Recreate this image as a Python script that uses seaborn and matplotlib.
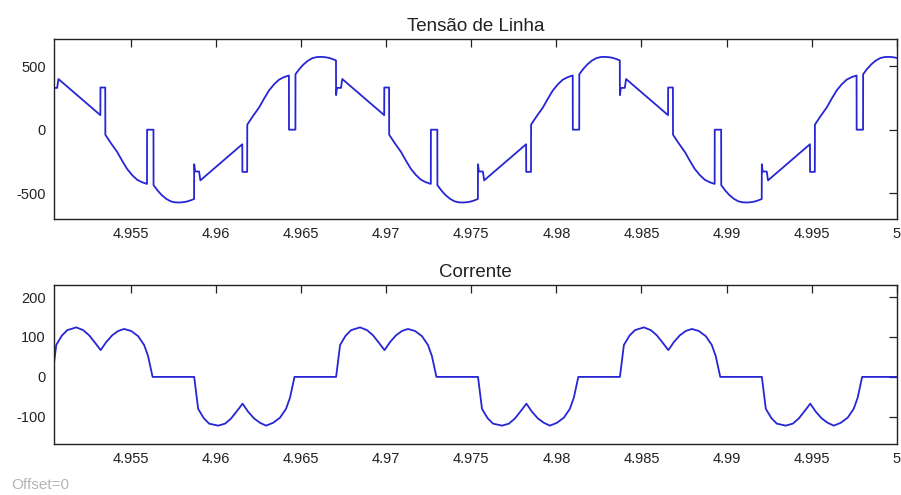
import matplotlib
matplotlib.use("Agg")
import matplotlib.pyplot as plt
import seaborn as sns
import pandas as pd

# Line voltage (Tensão de Linha): time in ms after 4.95 s, value in V
v_time_ms = [
    0.393, 0.399, 0.452, 0.686, 0.762, 1.759, 3.224, 3.230, 3.511, 3.517,
    3.863, 4.209, 4.503, 4.795, 5.088, 5.381, 5.673, 5.962, 5.967, 6.343,
    6.348, 6.583, 6.818, 7.083, 7.345, 7.583, 7.814, 8.053, 8.283, 8.523,
    8.727, 8.733, 8.786, 9.020, 9.096, 10.093, 11.558, 11.564, 11.845, 11.851,
    12.197, 12.543, 12.837, 13.129, 13.422, 13.715, 14.007, 14.296, 14.301, 14.677,
    14.682, 14.917, 15.152, 15.417, 15.679, 15.917, 16.148, 16.387, 16.617, 16.857,
    17.060, 17.066, 17.119, 17.353, 17.429, 18.426, 19.891, 19.897, 20.178, 20.184,
    20.530, 20.876, 21.170, 21.462, 21.755, 22.048, 22.340, 22.629, 22.634, 23.010,
    23.015, 23.250, 23.485, 23.750, 24.012, 24.250, 24.481, 24.720, 24.950, 25.190,
    25.393, 25.399, 25.452, 25.686, 25.762, 26.759, 28.224, 28.230, 28.511, 28.517,
    28.863, 29.209, 29.503, 29.795, 30.088, 30.381, 30.673, 30.962, 30.967, 31.343,
    31.348, 31.583, 31.818, 32.083, 32.345, 32.583, 32.814, 33.053, 33.283, 33.523,
    33.727, 33.733, 33.786, 34.020, 34.096, 35.093, 36.558, 36.564, 36.845, 36.851,
    37.197, 37.543, 37.837, 38.129, 38.422, 38.715, 39.007, 39.296, 39.301, 39.677,
    39.682, 39.917, 40.152, 40.417, 40.679, 40.917, 41.148, 41.387, 41.617, 41.857,
    42.060, 42.066, 42.119, 42.353, 42.429, 43.426, 44.891, 44.897, 45.178, 45.184,
    45.530, 45.876, 46.170, 46.462, 46.755, 47.048, 47.340, 47.629, 47.634, 48.010,
    48.015, 48.250, 48.485, 48.750, 49.012, 49.250, 49.481, 49.720, 49.950, 50.000,
]
v_values = [
    547, 273, 330, 330, 400, 285, 115, 333, 333, -40,
    -110, -175, -245, -310, -358, -395, -415, -428, 0, 0,
    -438, -480, -515, -545, -565, -573, -575, -573, -568, -558,
    -547, -273, -330, -330, -400, -285, -115, -333, -333, 40,
    110, 175, 245, 310, 358, 395, 415, 428, 0, 0,
    438, 480, 515, 545, 565, 573, 575, 573, 568, 558,
    547, 273, 330, 330, 400, 285, 115, 333, 333, -40,
    -110, -175, -245, -310, -358, -395, -415, -428, 0, 0,
    -438, -480, -515, -545, -565, -573, -575, -573, -568, -558,
    -547, -273, -330, -330, -400, -285, -115, -333, -333, 40,
    110, 175, 245, 310, 358, 395, 415, 428, 0, 0,
    438, 480, 515, 545, 565, 573, 575, 573, 568, 558,
    547, 273, 330, 330, 400, 285, 115, 333, 333, -40,
    -110, -175, -245, -310, -358, -395, -415, -428, 0, 0,
    -438, -480, -515, -545, -565, -573, -575, -573, -568, -558,
    -547, -273, -330, -330, -400, -285, -115, -333, -333, 40,
    110, 175, 245, 310, 358, 395, 415, 428, 0, 0,
    438, 480, 515, 545, 565, 573, 575, 573, 568, 566,
]

# Current (Corrente): time in ms after 4.95 s, value in A
i_time_ms = [
    0.400, 0.634, 0.957, 1.279, 1.807, 2.217, 2.569, 2.921, 3.243, 3.565,
    3.917, 4.269, 4.620, 5.031, 5.441, 5.793, 6.027, 6.291,
    8.733, 8.967, 9.290, 9.612, 10.140, 10.550, 10.902, 11.254, 11.576, 11.898,
    12.250, 12.602, 12.953, 13.364, 13.774, 14.126, 14.360, 14.624,
    17.067, 17.301, 17.624, 17.946, 18.474, 18.884, 19.236, 19.588, 19.910, 20.232,
    20.584, 20.936, 21.287, 21.698, 22.108, 22.460, 22.694, 22.958,
    25.400, 25.634, 25.957, 26.279, 26.807, 27.217, 27.569, 27.921, 28.243, 28.565,
    28.917, 29.269, 29.620, 30.031, 30.441, 30.793, 31.027, 31.291,
    33.733, 33.967, 34.290, 34.612, 35.140, 35.550, 35.902, 36.254, 36.576, 36.898,
    37.250, 37.602, 37.953, 38.364, 38.774, 39.126, 39.360, 39.624,
    42.067, 42.301, 42.624, 42.946, 43.474, 43.884, 44.236, 44.588, 44.910, 45.232,
    45.584, 45.936, 46.287, 46.698, 47.108, 47.460, 47.694, 47.958,
    50.000,
]
i_values = [
    0, 80, 103, 117, 124, 117, 104, 85, 67, 87,
    104, 115, 120, 115, 102, 80, 52, 0,
    0, -80, -103, -117, -122, -117, -104, -85, -67, -87,
    -104, -115, -122, -115, -102, -80, -52, 0,
    0, 80, 103, 117, 124, 117, 104, 85, 67, 87,
    104, 115, 120, 115, 102, 80, 52, 0,
    0, -80, -103, -117, -122, -117, -104, -85, -67, -87,
    -104, -115, -122, -115, -102, -80, -52, 0,
    0, 80, 103, 117, 124, 117, 104, 85, 67, 87,
    104, 115, 120, 115, 102, 80, 52, 0,
    0, -80, -103, -117, -122, -117, -104, -85, -67, -87,
    -104, -115, -122, -115, -102, -80, -52, 0,
    0,
]

x_ticks = [4.955, 4.96, 4.965, 4.97, 4.975, 4.98, 4.985, 4.99, 4.995, 5.0]
x_tick_labels = ["4.955", "4.96", "4.965", "4.97", "4.975", "4.98", "4.985", "4.99", "4.995", "5"]
v_ticks = [-500, 0, 500]
i_ticks = [-100, 0, 100, 200]

df_v = pd.DataFrame({"t": [4.95 + t / 1000 for t in v_time_ms], "v": v_values})
df_i = pd.DataFrame({"t": [4.95 + t / 1000 for t in i_time_ms], "i": i_values})

sns.set_style("white")
plt.rcParams["font.family"] = ["Liberation Sans", "DejaVu Sans"]

fig = plt.figure(figsize=(9.01, 4.95), dpi=100)
ax_v = fig.add_axes([0.0599, 0.5576, 0.9356, 0.3636])
ax_i = fig.add_axes([0.0599, 0.1030, 0.9356, 0.3212])

line_color = "#2626d4"

sns.lineplot(data=df_v, x="t", y="v", ax=ax_v, color=line_color, linewidth=1.3,
             estimator=None, sort=False)
sns.lineplot(data=df_i, x="t", y="i", ax=ax_i, color=line_color, linewidth=1.3,
             estimator=None, sort=False)

for ax, yt, ylim, title in [
    (ax_v, v_ticks, (-705, 716), "Tensão de Linha"),
    (ax_i, i_ticks, (-168, 230), "Corrente"),
]:
    ax.set_xlim(4.9505, 5.0)
    ax.set_ylim(*ylim)
    ax.set_xticks(x_ticks)
    ax.set_xticklabels(x_tick_labels)
    ax.set_yticks(yt)
    ax.set_yticklabels([str(y) for y in yt])
    ax.set_xlabel("")
    ax.set_ylabel("")
    ax.tick_params(direction="in", length=5.5, width=0.9, top=True, right=True,
                   labelsize=10.5, colors="#222222", pad=6)
    for s in ax.spines.values():
        s.set_color("#222222")
        s.set_linewidth(1.0)
    ax.set_title(title, fontsize=13.5, color="#222222", pad=6)

fig.text(0.012, 0.012, "Offset=0", fontsize=11, color="#b5b5b5")

fig.savefig("out.png", dpi=100)
